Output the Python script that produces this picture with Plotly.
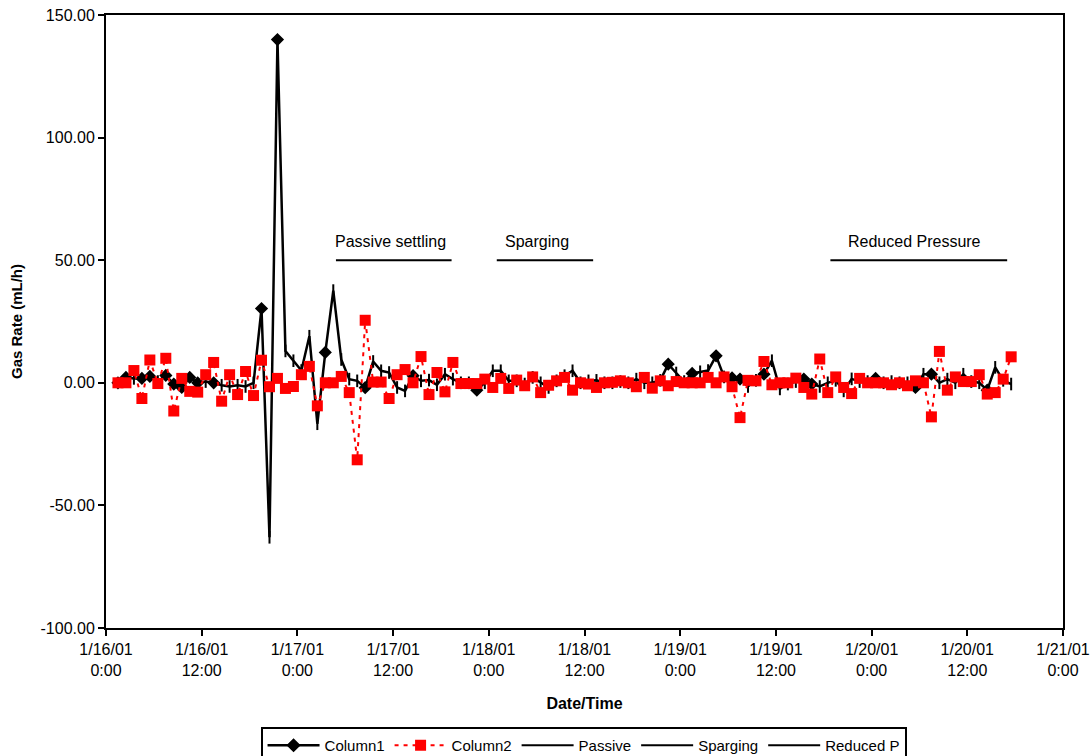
import pandas as pd
import plotly.graph_objects as go

# Hourly gas-rate readings (mL/h), first reading at 1/16/01 01:30
START = "2001-01-16 01:30"

COLUMN1 = [
    0, 2.2, 1.8, 1.8, 2.6, 0.5, 3, -0.5, -1.9, 2.2,
    0, 0.5, 0, -1, -1.5, -1, -1.5, 0, 30.3, -63,
    140, 13, 9, 5, 19, -16.7, 12.4, 37.6, 9.5, 1.5,
    0.8, -2, 8.7, 4.9, 4.2, -1.9, -3.3, 2.9, 0.8, 1.1,
    -0.8, 3.5, 1.5, 0, 0, -3, 0, 4.9, 4.9, 0.8,
    0.8, -0.5, 2.2, 0, -1.9, 0.8, 2.9, 4.9, 0, 0.8,
    1, 0, 0, 0.5, 0, 1.5, 0, 0, 1, 7.6,
    4, 0.5, 3.8, 4.5, 5, 11, 2.4, 2, 1.5, -1.5,
    1, 3.5, 9, -2.5, -0.5, 0.5, 1.5, -0.5, -1.5, 0,
    1, -3.3, 1.6, 0.5, 0.5, 1.8, 0, 0.5, 0, 0,
    -1.9, 3.5, 3.5, 0, 1.5, 0, 3.5, 0.5, 0, -3,
    6.3, 1, -0.5,
]

COLUMN2 = [
    0, 0, 5, -6.4, 9.3, -0.3, 10, -11.5, 1.8, -3.5,
    -3.8, 3.3, 8.3, -7.5, 3.3, -4.8, 4.6, -5.2, 9.2, -1.6,
    1.8, -2.3, -1.5, 3.3, 6.7, -9.4, 0, 0, 2.6, -4,
    -31.4, 25.5, 0.3, 0.3, -6.4, 3.3, 5.4, 0, 10.7, -4.8,
    4.2, -3.7, 8.3, -0.3, -0.3, -0.3, 1.5, -1.9, 1.8, -2.3,
    1.1, -1.2, 2.4, -4, -1, 0.8, 2.2, -3, 0, -0.5,
    -1.9, 0, 0.2, 0.8, 0, -1.6, 2.2, -2.2, 0.8, -1.2,
    0.5, 0, 0, 0, 2.2, 0, 2.4, -1.6, -14.2, 1,
    0.8, 8.7, -0.8, 0, 0, 1.9, -1.9, -4.6, 9.7, -4,
    2.4, -1.9, -4.4, 1.8, 0, 0, 0, -0.8, 0, -1.2,
    0.8, 0, -13.9, 12.8, -3, 2.4, 0.5, 0.5, 3.3, -4.6,
    -4, 1.5, 10.6,
]

# Readings of Column1 that carry a diamond marker (hours after 1/16/01 0:00)
COLUMN1_DIAMOND_HOURS = [
    1.5, 2.5, 4.5, 5.5, 7.5, 8.5, 9.5, 10.5, 11.5, 13.5, 19.5, 21.5, 27.5,
    32.5, 38.5, 46.5, 70.5, 73.5, 76.5, 78.5, 79.5, 82.5, 87.5, 88.5,
    96.5, 101.5, 103.5, 110.5,
]

# Test-phase bars drawn at 50 mL/h
PASSIVE_TIMES = ["2001-01-17 04:50", "2001-01-17 19:20"]
SPARGING_TIMES = ["2001-01-18 01:00", "2001-01-18 13:05"]
REDUCED_TIMES = ["2001-01-19 18:50", "2001-01-20 17:00"]
PHASE_RATE = [50, 50]

PHASE_LABELS = ["Passive settling", "Sparging", "Reduced Pressure"]
PHASE_LABEL_TIMES = ["2001-01-17 04:30", "2001-01-18 01:50", "2001-01-19 20:45"]

Y_TICKS = [-100, -50, 0, 50, 100, 150]
Y_TICK_TEXT = [f"{v:.2f}" for v in Y_TICKS]

TICK_TIMES = pd.date_range("2001-01-16 00:00", "2001-01-21 00:00", freq="12h")
TICK_TEXT = [f"{t.month}/{t.day}/{t:%y}<br>{t.hour}:{t:%M}" for t in TICK_TIMES]

times = pd.date_range(START, periods=len(COLUMN1), freq="h")
hours = [(t - pd.Timestamp("2001-01-16")).total_seconds() / 3600 for t in times]
diamond = [any(abs(h - d) < 0.01 for d in COLUMN1_DIAMOND_HOURS) for h in hours]
c1_symbols = ["diamond" if d else "line-ns" for d in diamond]
c1_sizes = [8 if d else 9 for d in diamond]

FONT = "Liberation Sans, Arial, sans-serif"

fig = go.Figure()

fig.add_trace(go.Scatter(
    x=times, y=COLUMN1, name="Column1", mode="lines+markers",
    line=dict(color="black", width=2.5),
    marker=dict(symbol=c1_symbols, size=c1_sizes, color="black", opacity=1,
                line=dict(color="black", width=2)),
))
fig.add_trace(go.Scatter(
    x=times, y=COLUMN2, name="Column2", mode="lines+markers",
    line=dict(color="#FF0000", width=2, dash="4px,5px"),
    marker=dict(symbol="square", size=11, color="#FF0000", opacity=1),
))
for name, t in [("Passive", PASSIVE_TIMES), ("Sparging", SPARGING_TIMES),
                ("Reduced P", REDUCED_TIMES)]:
    fig.add_trace(go.Scatter(
        x=pd.to_datetime(t), y=PHASE_RATE, name=name, mode="lines",
        line=dict(color="black", width=2),
    ))

for label, t in zip(PHASE_LABELS, PHASE_LABEL_TIMES):
    fig.add_annotation(
        x=pd.Timestamp(t), y=57.5, text=label, showarrow=False,
        xanchor="left", yanchor="middle",
        font=dict(family=FONT, size=16, color="black"),
    )

fig.update_layout(
    width=1090, height=756,
    margin=dict(l=106, r=27, t=15, b=128, autoexpand=False),
    paper_bgcolor="white", plot_bgcolor="white",
    font=dict(family=FONT, size=16, color="black"),
    showlegend=True,
    legend=dict(
        orientation="h", x=0.499, xanchor="center", y=-0.1615, yanchor="top",
        bordercolor="black", borderwidth=2, bgcolor="white",
        font=dict(family=FONT, size=15), itemwidth=52,
        tracegroupgap=0,
    ),
)

fig.update_xaxes(
    type="date",
    range=[pd.Timestamp("2001-01-16 00:00"), pd.Timestamp("2001-01-21 00:00")],
    tickvals=TICK_TIMES, ticktext=TICK_TEXT,
    ticks="outside", ticklen=6, tickwidth=2, tickcolor="black",
    showline=True, linecolor="black", linewidth=2, mirror=True,
    showgrid=False, zeroline=False, automargin=False,
    tickfont=dict(family=FONT, size=16),
    title=dict(text="<b>Date/Time</b>", font=dict(family=FONT, size=16), standoff=20),
)
fig.update_yaxes(
    range=[-100, 150], tickvals=Y_TICKS, ticktext=Y_TICK_TEXT,
    ticks="outside", ticklen=6, tickwidth=2, tickcolor="black",
    showline=True, linecolor="black", linewidth=2, mirror=True,
    showgrid=False, zeroline=False, automargin=False,
    tickfont=dict(family=FONT, size=16),
    title=dict(text="<b>Gas Rate (mL/h)</b>", font=dict(family=FONT, size=15), standoff=14),
)

fig.write_html("out.html")
